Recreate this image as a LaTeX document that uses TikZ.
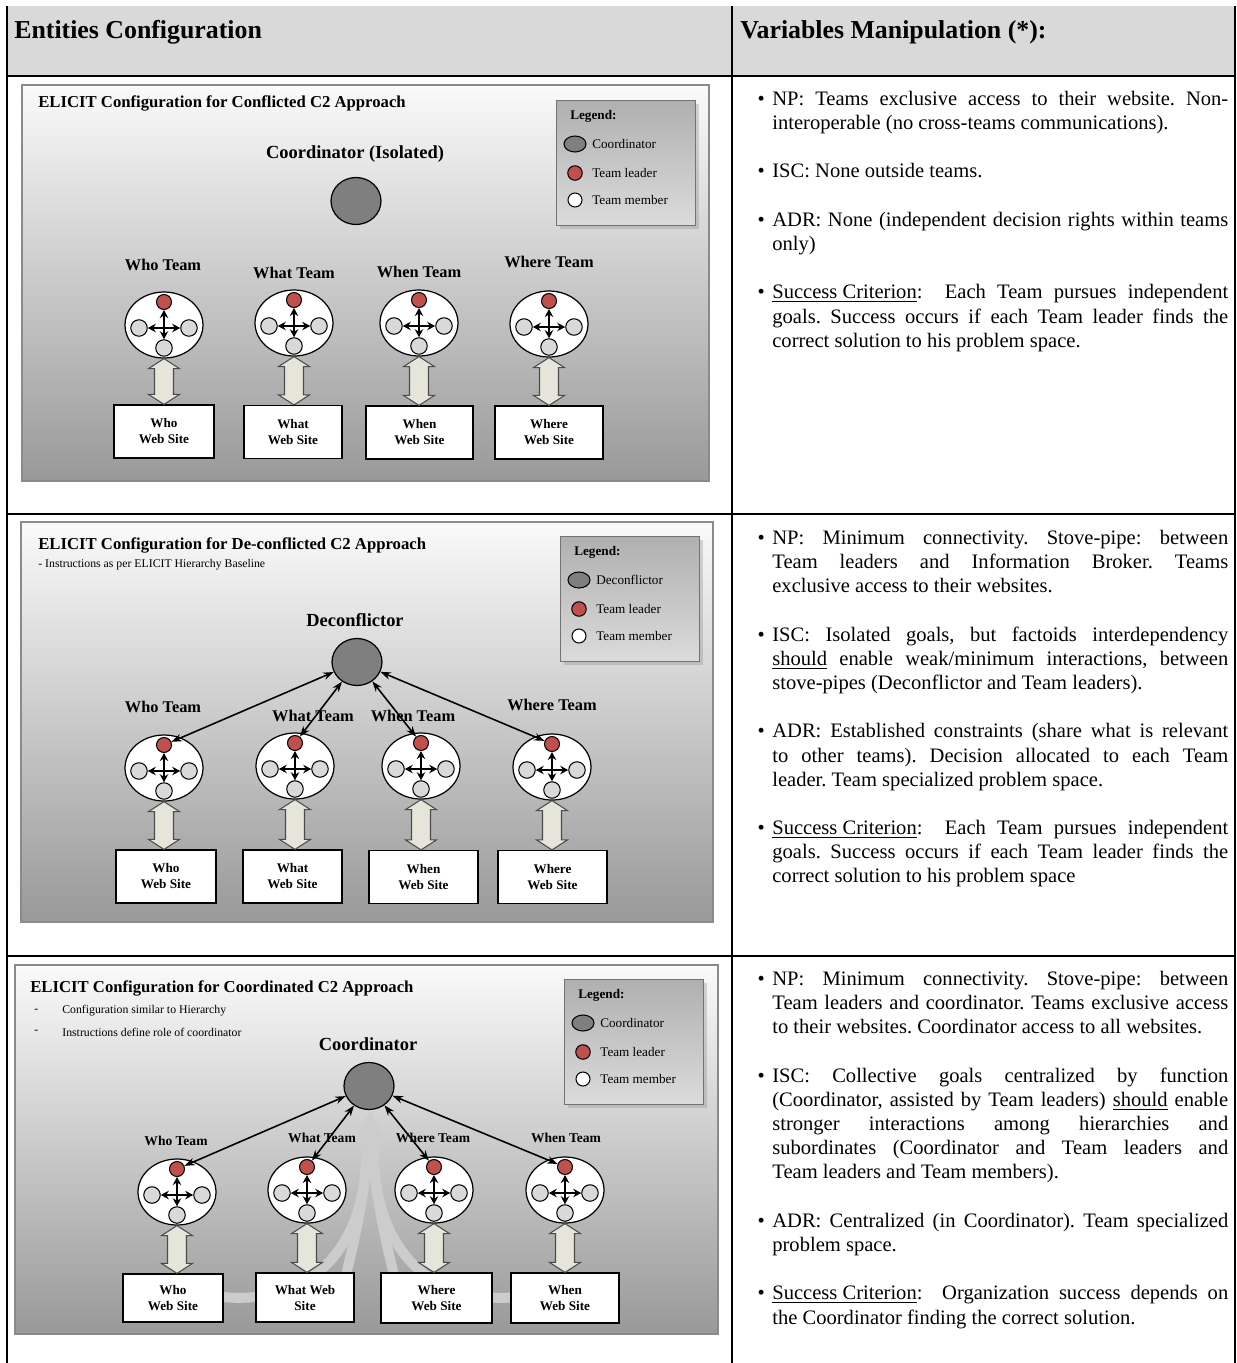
\documentclass[tikz,border=0pt]{standalone}
\usepackage{fontspec}
\setmainfont{Liberation Serif}
\usetikzlibrary{arrows.meta, shadows, shapes.geometric, calc}
\definecolor{headfill}{HTML}{D9D9D9}
\definecolor{leaderred}{HTML}{C0504D}
\definecolor{memberfill}{HTML}{D9D9D9}
\definecolor{chieffill}{HTML}{7F7F7F}
\definecolor{linkfill}{HTML}{E6E5DA}
\definecolor{frame}{HTML}{8A8A8A}
\newcommand{\critem}{\leavevmode\llap{\textbullet\hskip 0.15cm}\strut}

% one team: leader on top, three members, arrows out of the middle
\newcommand{\teamunit}[2]{%
	\begin{scope}[shift={(#2)}]
		\node[teamoval] (#1) at (0,0) {};
		\node[leader] (#1-l) at (0,-23) {};
		\node[member] (#1-w) at (-25,3) {};
		\node[member] (#1-e) at (25,3) {};
		\node[member] (#1-s) at (0,23) {};
		\coordinate (#1-x) at (0,3);
		\foreach \m in {l,w,e,s} \draw[spoke] (#1-x) -- (#1-\m);
	\end{scope}}

% the fat two-headed arrow between a team and its web site
\newcommand{\sitelink}[2]{%
	\draw[duplex] let \p1=(#1.south), \p2=(#2.north) in
	(\x1,\y1) -- ++(15.5,10) -- ++(-6,0) -- ([shift={(9.5,-10)}]\x1,\y2)
	-- ++(6,0) -- (\x1,\y2) -- ++(-15.5,-10) -- ++(6,0)
	-- ([shift={(-9.5,10)}]\x1,\y1) -- ++(-6,0) -- cycle;}

% legend panel in the top right corner of each configuration
\newcommand{\legendbox}[3]{%
	\begin{scope}[shift={(#2)}]
		\node[legendpanel] (#1) at (0,0) {};
		\node[legendhead] (#1-h) at (14,16) {Legend:};
		\node[legendchief] (#1-c) at (19,44) {};
		\node[legendtext] (#1-ct) at (36,44) {#3};
		\node[leader, minimum size=0.29cm] (#1-l) at (19,73) {};
		\node[legendtext] (#1-lt) at (36,73) {Team leader};
		\node[member, fill=white, minimum size=0.28cm] (#1-m) at (19,100) {};
		\node[legendtext] (#1-mt) at (36,100) {Team member};
	\end{scope}}

\begin{document}
\frenchspacing
\begin{tikzpicture}[x=0.02cm, y=-0.02cm,
	>=Stealth,
	tableline/.style={line width=1.6pt, black},
	colhead/.style={anchor=west, inner sep=0, font=\fontsize{14.7}{17}\selectfont\bfseries},
	critcell/.style={anchor=north west, inner sep=0, text width=9.12cm, align=justify,
		font=\fontsize{11.7}{13.77}\selectfont},
	panel/.style={draw=frame, line width=1.1pt, top color=gray!4, bottom color=gray!80},
	paneltitle/.style={anchor=west, inner sep=0, font=\fontsize{9.5}{11}\selectfont\bfseries},
	subnote/.style={anchor=west, inner sep=0, font=\fontsize{6.7}{8}\selectfont},
	chieflabel/.style={font=\fontsize{10.5}{12}\selectfont\bfseries, inner sep=0},
	chief/.style={ellipse, draw, line width=0.7pt, fill=chieffill, minimum width=1cm, minimum height=0.94cm},
	teamname/.style={font=\fontsize{9.3}{11}\selectfont\bfseries, inner sep=0},
	teamsmall/.style={font=\fontsize{7.7}{9}\selectfont\bfseries, inner sep=0},
	teamoval/.style={ellipse, draw, line width=0.7pt, fill=white, minimum width=1.56cm, minimum height=1.32cm},
	leader/.style={circle, draw, line width=0.6pt, fill=leaderred, inner sep=0, minimum size=0.3cm},
	member/.style={circle, draw, line width=0.6pt, fill=memberfill, inner sep=0, minimum size=0.33cm},
	spoke/.style={-{Stealth[length=0.16cm, width=0.17cm]}, line width=1.3pt},
	bosslink/.style={{Stealth[length=0.21cm, width=0.15cm]}-{Stealth[length=0.21cm, width=0.15cm]}, line width=0.9pt},
	duplex/.style={draw=black!70, fill=linkfill, line width=0.6pt},
	website/.style={draw, line width=0.7pt, fill=white, align=center, inner sep=0,
		minimum width=2cm, minimum height=1.06cm, font=\fontsize{7.5}{9.1}\selectfont\bfseries},
	legendpanel/.style={anchor=north west, draw=black!55, line width=0.7pt, top color=gray!62, bottom color=gray!28,
		minimum width=2.78cm, minimum height=2.5cm,
		drop shadow={opacity=0.3, shadow xshift=0.06cm, shadow yshift=-0.06cm}},
	legendhead/.style={anchor=west, inner sep=0, font=\fontsize{7.5}{9}\selectfont\bfseries},
	legendtext/.style={anchor=west, inner sep=0, font=\fontsize{7.5}{9}\selectfont},
	legendchief/.style={ellipse, draw, line width=0.6pt, fill=chieffill, inner sep=0,
		minimum width=0.44cm, minimum height=0.32cm},
	fan/.style={line width=0.2cm, gray!40}
	]
	
	\useasboundingbox (0,0) rectangle (1237,1363);
	
	% ==========================================
	% TABLE HEADER
	% ==========================================
	\fill[headfill] (7,6) rectangle (1235,76);
	\node[colhead] (entities) at (14,32) {Entities Configuration};
	\node[colhead] (variables) at (740,32) {Variables Manipulation (*):};
	
	% ==========================================
	% ROW 1: Conflicted C2
	% ==========================================
	
	\node[panel, minimum width=13.74cm, minimum height=7.92cm] (p1) at (365.5,283) {};
	\node[paneltitle] (p1title) at (38,103) {ELICIT Configuration for Conflicted C2 Approach};
	\legendbox{p1key}{556,100}{Coordinator}
	
	% The isolated coordinator
	\node[chieflabel] (p1chiefname) at (355,154) {Coordinator (Isolated)};
	\node[chief] (p1c) at (356,201) {};
	
	% Teams
	\node[teamname] (p1whoname) at (163,265) {Who Team};
	\node[teamname] (p1whatname) at (294,273) {What Team};
	\node[teamname] (p1whenname) at (419,272) {When Team};
	\node[teamname] (p1wherename) at (549,262) {Where Team};
	\teamunit{p1who}{164,325}
	\teamunit{p1what}{294,323}
	\teamunit{p1when}{419,323}
	\teamunit{p1where}{549,324}
	
	% Web sites
	\node[website] (p1whosite) at (164,431.5) {Who\\Web Site};
	\node[website, minimum width=1.96cm] (p1whatsite) at (293,432) {What\\Web Site};
	\node[website, minimum width=2.14cm] (p1whensite) at (419.5,432.5) {When\\Web Site};
	\node[website, minimum width=2.16cm] (p1wheresite) at (549,432.5) {Where\\Web Site};
	\sitelink{p1who}{p1whosite}
	\sitelink{p1what}{p1whatsite}
	\sitelink{p1when}{p1whensite}
	\sitelink{p1where}{p1wheresite}
	
	\node[critcell] (p1vars) at (772,88) {\setlength{\parskip}{13.77pt}%
		\critem NP: Teams exclusive access to their website. Non-\linebreak interoperable (no cross-teams communications).\par
		\critem ISC: None outside teams.\par
		\critem ADR: None (independent decision rights within teams\linebreak only)\par
		\critem \underline{Success Criterion}:\ \ Each Team pursues independent\linebreak goals. Success occurs if each Team leader finds the\linebreak correct solution to his problem space.};
	
	% ==========================================
	% ROW 2: De-conflicted C2
	% ==========================================
	
	\node[panel, minimum width=13.84cm, minimum height=8cm] (p2) at (367,722) {};
	\node[paneltitle] (p2title) at (38,545) {ELICIT Configuration for De-conflicted C2 Approach};
	\node[subnote] (p2note) at (38,565) {- Instructions as per ELICIT Hierarchy Baseline};
	\legendbox{p2key}{560,536}{Deconflictor}
	
	\node[chieflabel] (p2chiefname) at (355,620) {Deconflictor};
	\node[chief] (p2c) at (357,662) {};
	
	\node[teamname] (p2whoname) at (163,707) {Who Team};
	\node[teamname] (p2whatname) at (313,716) {What Team};
	\node[teamname] (p2whenname) at (413,716) {When Team};
	\node[teamname] (p2wherename) at (552,705) {Where Team};
	\teamunit{p2who}{164,768}
	\teamunit{p2what}{295,766}
	\teamunit{p2when}{421,766}
	\teamunit{p2where}{552,767}
	
	% Deconflictor talks to each Team leader
	\draw[bosslink] (p2c) -- (p2who-l);
	\draw[bosslink] (p2c) -- (p2what-l);
	\draw[bosslink] (p2c) -- (p2when-l);
	\draw[bosslink] (p2c) -- (p2where-l);
	
	\node[website] (p2whosite) at (166,876.5) {Who\\Web Site};
	\node[website, minimum width=1.98cm] (p2whatsite) at (292.5,876.5) {What\\Web Site};
	\node[website, minimum width=2.18cm] (p2whensite) at (423.5,877) {When\\Web Site};
	\node[website, minimum width=2.18cm] (p2wheresite) at (552.5,877) {Where\\Web Site};
	\sitelink{p2who}{p2whosite}
	\sitelink{p2what}{p2whatsite}
	\sitelink{p2when}{p2whensite}
	\sitelink{p2where}{p2wheresite}
	
	\node[critcell] (p2vars) at (772,527) {\setlength{\parskip}{13.77pt}%
		\critem NP: Minimum connectivity. Stove-pipe: between\linebreak Team leaders and Information Broker. Teams\linebreak exclusive access to their websites.\par
		\critem ISC: Isolated goals, but factoids interdependency\linebreak \underline{should} enable weak/minimum interactions, between\linebreak stove-pipes (Deconflictor and Team leaders).\par
		\critem ADR: Established constraints (share what is relevant\linebreak to other teams). Decision allocated to each Team\linebreak leader. Team specialized problem space.\par
		\critem \underline{Success Criterion}:\ \ Each Team pursues independent\linebreak goals. Success occurs if each Team leader finds the\linebreak correct solution to his problem space};
	
	% ==========================================
	% ROW 3: Coordinated C2
	% ==========================================
	
	\node[panel, minimum width=14.06cm, minimum height=7.38cm] (p3) at (366.5,1149.5) {};
	\node[paneltitle] (p3title) at (30,988) {ELICIT Configuration for Coordinated C2 Approach};
	\node[subnote] (p3dash1) at (34,1011) {-};
	\node[subnote] (p3note1) at (62,1011) {Configuration similar to Hierarchy};
	\node[subnote] (p3dash2) at (34,1032) {-};
	\node[subnote] (p3note2) at (62,1032) {Instructions define role of coordinator};
	\legendbox{p3key}{564,979}{Coordinator}
	
	\node[chieflabel] (p3chiefname) at (368,1044) {Coordinator};
	
	% Light arrows converging on the coordinator (behind everything)
	\coordinate (fantip) at (370,1112);
	\draw[fan] (180,1288) .. controls (280,1320) and (372,1275) .. (366,1136);
	\draw[fan] (335,1320) .. controls (352,1250) and (366,1200) .. (368,1136);
	\draw[fan] (405,1320) .. controls (388,1250) and (374,1200) .. (372,1136);
	\draw[fan] (560,1288) .. controls (460,1320) and (368,1275) .. (374,1136);
	\fill[gray!40] (357,1136) -- (fantip) -- (383,1136) -- cycle;
	
	\node[chief] (p3c) at (369,1086) {};
	
	\node[teamsmall] (p3whoname) at (176,1141) {Who Team};
	\node[teamsmall] (p3whatname) at (322,1138) {What Team};
	\node[teamsmall] (p3wherename) at (433,1138) {Where Team};
	\node[teamsmall] (p3whenname) at (566,1138) {When Team};
	\teamunit{p3who}{177,1192}
	\teamunit{p3what}{307,1190}
	\teamunit{p3where}{434,1190}
	\teamunit{p3when}{565,1190}
	
	% Coordinator talks to each Team leader
	\draw[bosslink] (p3c) -- (p3who-l);
	\draw[bosslink] (p3c) -- (p3what-l);
	\draw[bosslink] (p3c) -- (p3where-l);
	\draw[bosslink] (p3c) -- (p3when-l);
	
	\node[website, minimum height=0.96cm] (p3whosite) at (173,1298) {Who\\Web Site};
	\node[website, minimum height=0.98cm, minimum width=1.96cm] (p3whatsite) at (305,1297.5) {What Web\\Site};
	\node[website, minimum height=1cm, minimum width=2.22cm] (p3wheresite) at (436.5,1298) {Where\\Web Site};
	\node[website, minimum height=1cm, minimum width=2.16cm] (p3whensite) at (565,1298) {When\\Web Site};
	\sitelink{p3who}{p3whosite}
	\sitelink{p3what}{p3whatsite}
	\sitelink{p3where}{p3wheresite}
	\sitelink{p3when}{p3whensite}
	
	\node[critcell] (p3vars) at (772,968) {\setlength{\parskip}{13.77pt}%
		\critem NP: Minimum connectivity. Stove-pipe: between\linebreak Team leaders and coordinator. Teams exclusive access\linebreak to their websites. Coordinator access to all websites.\par
		\critem ISC: Collective goals centralized by function\linebreak (Coordinator, assisted by Team leaders) \underline{should} enable\linebreak stronger interactions among hierarchies and\linebreak subordinates (Coordinator and Team leaders and\linebreak Team leaders and Team members).\par
		\critem ADR: Centralized (in Coordinator). Team specialized\linebreak problem space.\par
		\critem \underline{Success Criterion}:\ \ Organization success depends on\linebreak the Coordinator finding the correct solution.};
	
	% ==========================================
	% TABLE RULES
	% ==========================================
	\draw[tableline] (7,6) -- (7,1363);
	\draw[tableline] (732,6) -- (732,1363);
	\draw[tableline] (1235,6) -- (1235,1363);
	\draw[tableline] (7,76) -- (1235,76);
	\draw[tableline] (7,514) -- (1235,514);
	\draw[tableline] (7,956) -- (1235,956);
\end{tikzpicture}
\end{document}
